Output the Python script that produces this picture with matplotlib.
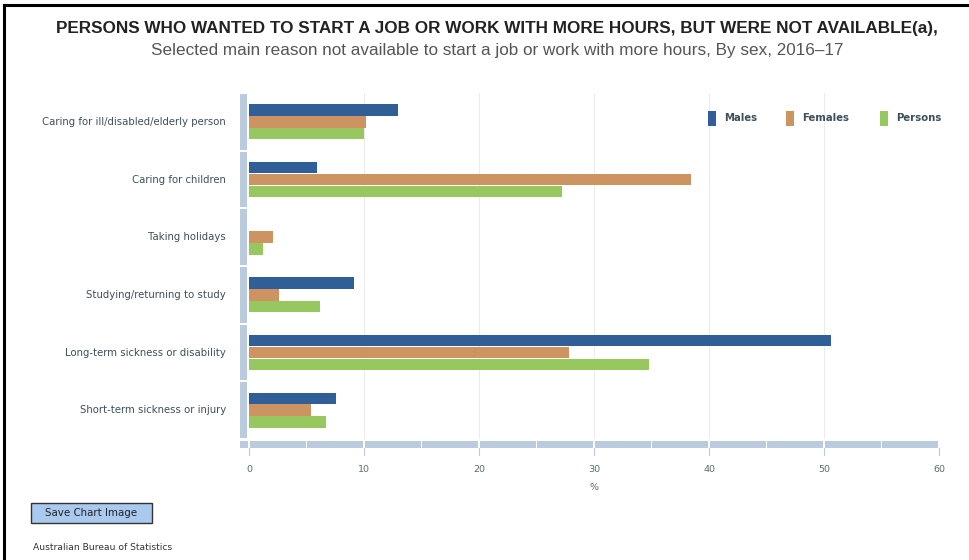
import matplotlib.pyplot as plt
import matplotlib.transforms as mtransforms
from matplotlib.patches import Rectangle
from matplotlib.lines import Line2D
import numpy as np

reasons = [
    'Caring for ill/disabled/elderly person',
    'Caring for children',
    'Taking holidays',
    'Studying/returning to study',
    'Long-term sickness or disability',
    'Short-term sickness or injury',
]
males = [13.0, 5.9, 0.0, 9.1, 50.6, 7.6]
females = [10.2, 38.4, 2.1, 2.6, 27.8, 5.4]
persons = [10.0, 27.2, 1.2, 6.2, 34.8, 6.7]
series_names = ['Males', 'Females', 'Persons']
series_colors = ['#2f5f96', '#cd9462', '#96c85f']
x_ticks = [0, 10, 20, 30, 40, 50, 60]

W, H = 970, 560
fig = plt.figure(figsize=(W / 100, H / 100), dpi=100)
fig.patch.set_facecolor('white')

# helper: pixel box -> figure fraction
def px_box(x0, y0, x1, y1):
    return [x0 / W, 1 - y1 / H, (x1 - x0) / W, (y1 - y0) / H]

ax = fig.add_axes(px_box(249, 93, 939, 439))
n = len(reasons)
pos = np.arange(n)
bar_h = 0.205
for i, (vals, col) in enumerate(zip([males, females, persons], series_colors)):
    ax.barh(pos + (i - 1) * bar_h, vals, height=bar_h * 0.97, color=col,
            linewidth=0, zorder=3)

ax.set_xlim(0, 60)
ax.set_ylim(n - 0.5, -0.5)
for s in ax.spines.values():
    s.set_visible(False)
ax.set_xticks([])
ax.set_yticks([])

for t in x_ticks[1:]:
    ax.axvline(t, color='#ececec', lw=0.8, zorder=1)

# category axis band on the left, one segment per category
trans_y = mtransforms.blended_transform_factory(ax.transAxes, ax.transData)
band_x0 = -9 / 690
band_w = 7.5 / 690
for k in range(n):
    ax.add_patch(Rectangle((band_x0, k - 0.5 + 0.02), band_w, 0.96,
                           transform=trans_y, facecolor='#b9cbdd',
                           edgecolor='none', clip_on=False, zorder=2))
    ax.text(-23 / 690, k, reasons[k], transform=trans_y, ha='right',
            va='center', fontsize=7.3, color='#3d4f5a',
            family='DejaVu Sans')

# value axis band at the bottom, segmented every 5 units
trans_x = mtransforms.blended_transform_factory(ax.transData, ax.transAxes)
by0 = -9 / 346
bh = 7 / 346
edges = np.arange(0, 61, 5)
ax.add_patch(Rectangle((-9 / 11.5, by0), 9 / 11.5 - 0.08, bh, transform=trans_x,
                       facecolor='#b9cbdd', edgecolor='none', clip_on=False))
for a, b in zip(edges[:-1], edges[1:]):
    ax.add_patch(Rectangle((a + 0.08, by0), b - a - 0.16, bh, transform=trans_x,
                           facecolor='#b9cbdd', edgecolor='none', clip_on=False))
for t in x_ticks:
    ax.add_line(Line2D([t, t], [by0, by0 - 7 / 346], transform=trans_x,
                       color='#b9cbdd', lw=0.8, clip_on=False))
    ax.text(t, -31 / 346, str(t), transform=trans_x, ha='center', va='center',
            fontsize=6.8, color='#5a6a72')
ax.text(30, -49 / 346, '%', transform=trans_x, ha='center', va='center',
        fontsize=6.8, color='#5a6a72')

# legend
leg_x = [708, 786, 880]
for x, name, col in zip(leg_x, series_names, series_colors):
    fig.patches.append(Rectangle((x / W, 1 - 126 / H), 8 / W, 15 / H,
                                 transform=fig.transFigure, facecolor=col,
                                 edgecolor='none'))
    fig.text((x + 16) / W, 1 - 118 / H, name, ha='left', va='center',
             fontsize=7.3, fontweight='bold', color='#3d4f5a')

# titles
fig.text(497 / W, 1 - 28 / H,
         'PERSONS WHO WANTED TO START A JOB OR WORK WITH MORE HOURS, BUT WERE NOT AVAILABLE(a),',
         ha='center', va='center', fontsize=12.3, fontweight='bold',
         family='Liberation Sans', color='#222222')
fig.text(497 / W, 1 - 50 / H,
         'Selected main reason not available to start a job or work with more hours, By sex, 2016\u201317',
         ha='center', va='center', fontsize=12.3, family='Liberation Sans',
         color='#555555')

# button and source note
fig.patches.append(Rectangle((31 / W, 1 - 523 / H), 121 / W, 20 / H,
                             transform=fig.transFigure, facecolor='#a9c9ef',
                             edgecolor='#333333', lw=1))
fig.text(91 / W, 1 - 513 / H, 'Save Chart Image', ha='center', va='center',
         fontsize=7.4, color='#222222')
fig.text(33 / W, 1 - 547 / H, 'Australian Bureau of Statistics', ha='left',
         va='center', fontsize=6.6, color='#333333')

# frame lines along the top and left edges
fig.lines.append(Line2D([4.5 / W, 4.5 / W], [0, 1 - 4.5 / H],
                        transform=fig.transFigure, color='black', lw=2.2))
fig.lines.append(Line2D([4.5 / W, 1], [1 - 4.5 / H, 1 - 4.5 / H],
                        transform=fig.transFigure, color='black', lw=2.2))

fig.savefig('out.png', dpi=100)
